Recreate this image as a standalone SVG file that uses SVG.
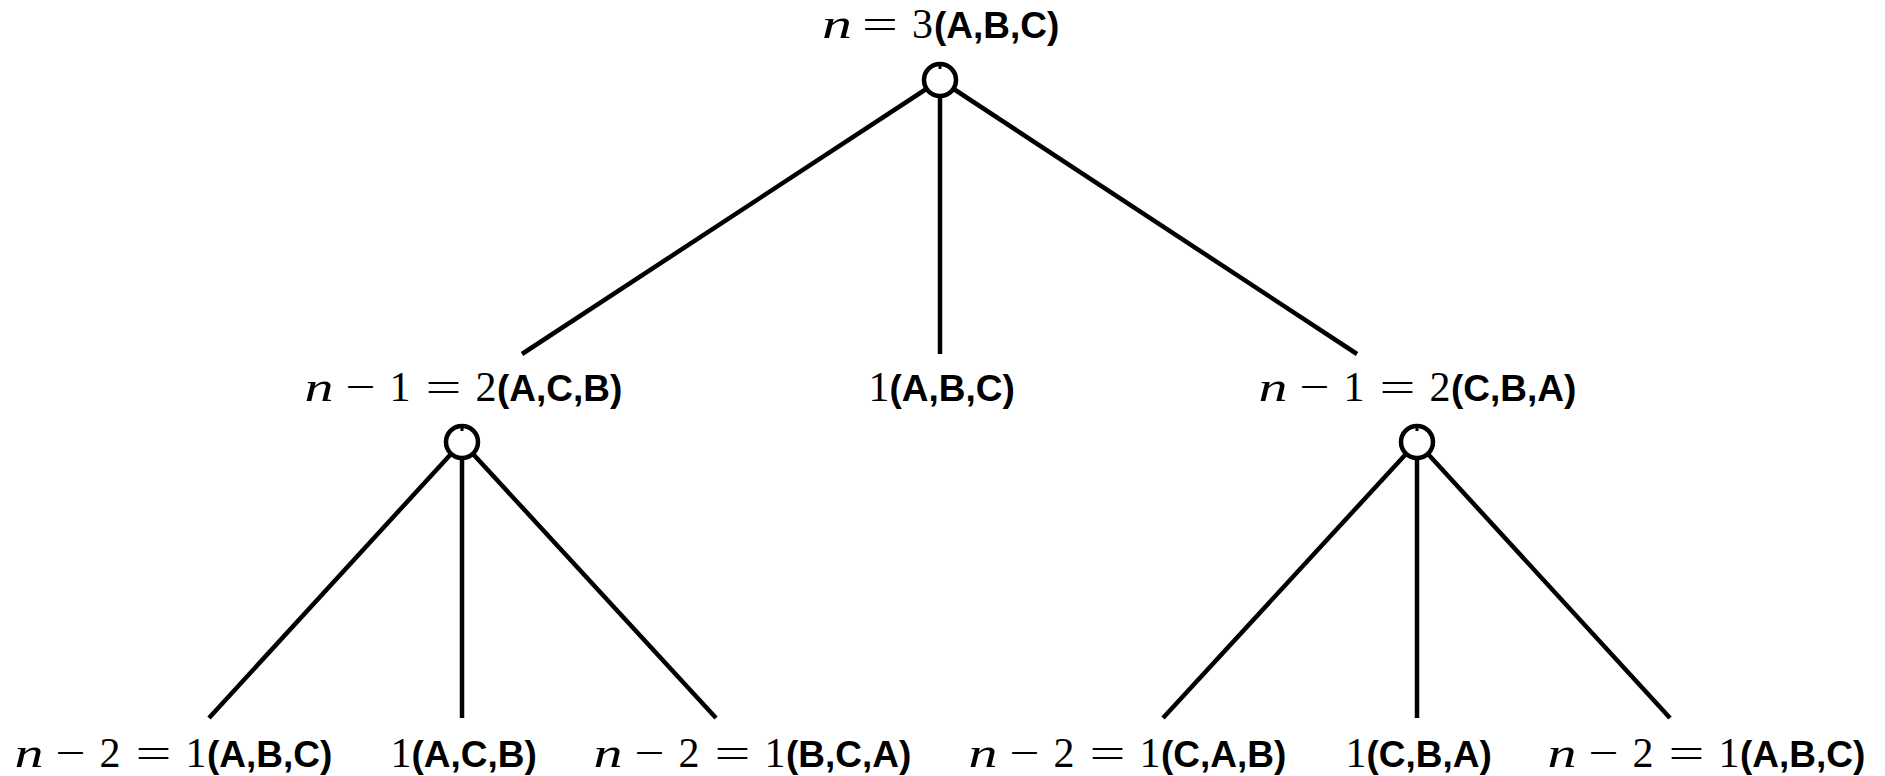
<svg xmlns="http://www.w3.org/2000/svg" width="1885" height="776" viewBox="0 0 1885 776">
<style>
.m{font-family:"Liberation Serif","Times New Roman",serif;font-size:42px;fill:#000;text-anchor:middle}
.s{text-anchor:start}
.i{font-style:italic}
.b{font-family:"Liberation Sans",Arial,sans-serif;font-weight:bold;font-size:37px;fill:#000}
.e{stroke:#000;stroke-width:4.5;fill:none}
.c{stroke:#000;stroke-width:4.5;fill:#fff}
.t{stroke:#000;stroke-width:3}
</style>
<rect width="1885" height="776" fill="#fff"/>
<g id="connectors" class="e">
<line x1="940" y1="80" x2="522" y2="354"/>
<line x1="940" y1="80" x2="940" y2="354"/>
<line x1="940" y1="80" x2="1357" y2="354"/>
<line x1="462" y1="442" x2="209" y2="718"/>
<line x1="462" y1="442" x2="462" y2="718"/>
<line x1="462" y1="442" x2="716" y2="718"/>
<line x1="1417" y1="442" x2="1163" y2="718"/>
<line x1="1417" y1="442" x2="1417" y2="718"/>
<line x1="1417" y1="442" x2="1670" y2="718"/>
</g>
<g id="root">
<circle class="c" cx="940" cy="80" r="16"/>
<line class="t" x1="940" y1="62" x2="940" y2="69"/>
<text class="m s i" x="822" y="38" textLength="30" lengthAdjust="spacingAndGlyphs">n</text>
<text class="m s" x="862" y="38" textLength="36" lengthAdjust="spacingAndGlyphs">=</text>
<text class="m" x="922.5" y="38">3</text>
<text class="b" x="934" y="38">(A,B,C)</text>
</g>
<g id="mid-left">
<circle class="c" cx="462" cy="442" r="16"/>
<line class="t" x1="462" y1="424" x2="462" y2="431"/>
<text class="m s i" x="304.5" y="401" textLength="29" lengthAdjust="spacingAndGlyphs">n</text>
<text class="m s" x="345.5" y="401" textLength="30" lengthAdjust="spacingAndGlyphs">−</text>
<text class="m" x="400" y="401">1</text>
<text class="m s" x="425.5" y="401" textLength="36" lengthAdjust="spacingAndGlyphs">=</text>
<text class="m" x="486" y="401">2</text>
<text class="b" x="497" y="401">(A,C,B)</text>
</g>
<g id="mid-center">
<text class="m" x="879" y="401">1</text>
<text class="b" x="889.5" y="401">(A,B,C)</text>
</g>
<g id="mid-right">
<circle class="c" cx="1417" cy="442" r="16"/>
<line class="t" x1="1417" y1="424" x2="1417" y2="431"/>
<text class="m s i" x="1258.5" y="401" textLength="29" lengthAdjust="spacingAndGlyphs">n</text>
<text class="m s" x="1299.5" y="401" textLength="30" lengthAdjust="spacingAndGlyphs">−</text>
<text class="m" x="1354" y="401">1</text>
<text class="m s" x="1379.5" y="401" textLength="36" lengthAdjust="spacingAndGlyphs">=</text>
<text class="m" x="1440" y="401">2</text>
<text class="b" x="1451" y="401">(C,B,A)</text>
</g>
<g id="leaf-1">
<text class="m s i" x="14.5" y="767" textLength="29" lengthAdjust="spacingAndGlyphs">n</text>
<text class="m s" x="55.5" y="767" textLength="30" lengthAdjust="spacingAndGlyphs">−</text>
<text class="m" x="110" y="767">2</text>
<text class="m s" x="135.5" y="767" textLength="36" lengthAdjust="spacingAndGlyphs">=</text>
<text class="m" x="196" y="767">1</text>
<text class="b" x="207" y="767">(A,B,C)</text>
</g>
<g id="leaf-2">
<text class="m" x="401" y="767">1</text>
<text class="b" x="411.5" y="767">(A,C,B)</text>
</g>
<g id="leaf-3">
<text class="m s i" x="593.5" y="767" textLength="29" lengthAdjust="spacingAndGlyphs">n</text>
<text class="m s" x="634.5" y="767" textLength="30" lengthAdjust="spacingAndGlyphs">−</text>
<text class="m" x="689" y="767">2</text>
<text class="m s" x="714.5" y="767" textLength="36" lengthAdjust="spacingAndGlyphs">=</text>
<text class="m" x="775" y="767">1</text>
<text class="b" x="786" y="767">(B,C,A)</text>
</g>
<g id="leaf-4">
<text class="m s i" x="968.5" y="767" textLength="29" lengthAdjust="spacingAndGlyphs">n</text>
<text class="m s" x="1009.5" y="767" textLength="30" lengthAdjust="spacingAndGlyphs">−</text>
<text class="m" x="1064" y="767">2</text>
<text class="m s" x="1089.5" y="767" textLength="36" lengthAdjust="spacingAndGlyphs">=</text>
<text class="m" x="1150" y="767">1</text>
<text class="b" x="1161" y="767">(C,A,B)</text>
</g>
<g id="leaf-5">
<text class="m" x="1356" y="767">1</text>
<text class="b" x="1366.5" y="767">(C,B,A)</text>
</g>
<g id="leaf-6">
<text class="m s i" x="1547.5" y="767" textLength="29" lengthAdjust="spacingAndGlyphs">n</text>
<text class="m s" x="1588.5" y="767" textLength="30" lengthAdjust="spacingAndGlyphs">−</text>
<text class="m" x="1643" y="767">2</text>
<text class="m s" x="1668.5" y="767" textLength="36" lengthAdjust="spacingAndGlyphs">=</text>
<text class="m" x="1729" y="767">1</text>
<text class="b" x="1740" y="767">(A,B,C)</text>
</g>
</svg>
